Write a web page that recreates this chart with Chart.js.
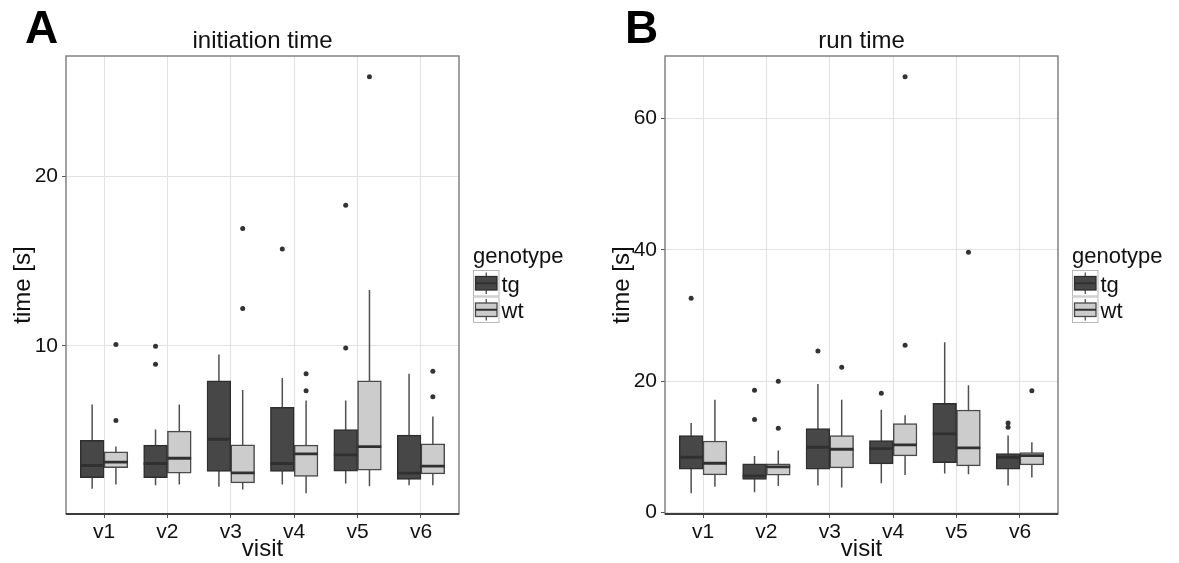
<!DOCTYPE html>
<html>
<head>
<meta charset="utf-8">
<title>initiation time / run time</title>
<script src="https://cdn.jsdelivr.net/npm/chart.js@4.4.1/dist/chart.umd.min.js"></script>
<style>
  html, body { margin: 0; padding: 0; background: #fff; }
  #wrap { position: relative; width: 1179px; height: 563px; }
  canvas { position: absolute; top: 0; }
  #panelA { left: 0; }
  #panelB { left: 599px; }
</style>
</head>
<body>
<div id="wrap">
  <canvas id="panelA" width="599" height="563"></canvas>
  <canvas id="panelB" width="580" height="563"></canvas>
</div>
<script>
const visits = ['v1', 'v2', 'v3', 'v4', 'v5', 'v6'];
const genotypes = ['tg', 'wt'];

// initiation time [s] -- box statistics per visit
const initTgLow    = [1.57, 1.78, 1.69, 1.82, 1.88, 1.78];
const initTgQ1     = [2.22, 2.22, 2.59, 2.59, 2.61, 2.12];
const initTgMedian = [2.94, 3.06, 4.49, 3.06, 3.57, 2.49];
const initTgQ3     = [4.42, 4.14, 7.94, 6.38, 5.06, 4.73];
const initTgHigh   = [6.54, 5.06, 9.49, 8.11, 6.77, 8.35];
const initTgOutVisit = ['v2', 'v2', 'v4', 'v5', 'v5'];
const initTgOutValue = [9.98, 8.92, 15.72, 9.88, 18.29];

const initWtLow    = [1.82, 1.82, 1.53, 1.31, 1.72, 1.78];
const initWtQ1     = [2.81, 2.49, 1.92, 2.29, 2.67, 2.45];
const initWtMedian = [3.14, 3.37, 2.51, 3.63, 4.06, 2.90];
const initWtQ3     = [3.75, 4.97, 4.16, 4.14, 7.94, 4.22];
const initWtHigh   = [4.06, 6.54, 7.40, 6.77, 13.30, 5.83];
const initWtOutVisit = ['v1', 'v1', 'v3', 'v3', 'v4', 'v4', 'v5', 'v6', 'v6'];
const initWtOutValue = [5.60, 10.08, 16.93, 12.20, 8.35, 7.35, 25.88, 8.50, 6.99];

const initTicks = [10, 20];
const initRange = [0.08, 27.1];

// run time [s]
const runTgLow    = [2.94, 3.09, 4.10, 4.46, 5.93, 4.10];
const runTgQ1     = [6.59, 5.02, 6.59, 7.39, 7.60, 6.59];
const runTgMedian = [8.41, 5.57, 9.93, 9.73, 11.96, 8.41];
const runTgQ3     = [11.71, 7.39, 12.77, 10.95, 16.62, 8.97];
const runTgHigh   = [13.63, 8.61, 19.56, 15.66, 25.90, 11.71];
const runTgOutVisit = ['v1', 'v2', 'v2', 'v3', 'v4', 'v6', 'v6'];
const runTgOutValue = [32.6, 18.6, 14.14, 24.58, 18.15, 13.63, 12.97];

const runWtLow    = [3.90, 4.05, 3.80, 5.72, 5.82, 5.32];
const runWtQ1     = [5.72, 5.67, 6.79, 8.61, 7.09, 7.24];
const runWtMedian = [7.50, 6.94, 9.63, 10.29, 9.83, 8.67];
const runWtQ3     = [10.89, 7.39, 11.71, 13.53, 15.60, 9.13];
const runWtHigh   = [17.18, 9.43, 17.18, 14.80, 19.36, 10.69];
const runWtOutVisit = ['v2', 'v2', 'v3', 'v4', 'v4', 'v5', 'v6'];
const runWtOutValue = [19.97, 12.82, 22.10, 25.45, 66.35, 39.64, 18.55];

const runTicks = [0, 20, 40, 60];
const runRange = [-0.23, 69.5];

const FONT = '"Liberation Sans", Arial, Helvetica, sans-serif';
const BOX_HALF = 0.1875;                 // half of one dodged box, in visit units
const DODGE = { tg: -0.1875, wt: 0.1875 };
const FILLS = { tg: '#474747', wt: '#cccccc' };
const EDGES = { tg: '#2e2e2e', wt: '#4a4a4a' };

function boxDatasets(g, low, q1, median, q3, high, outVisit, outValue) {
  const xs = visits.map((v, i) => i + 1 + DODGE[g]);
  const whiskers = [];
  const medians = [];
  xs.forEach((x, i) => {
    whiskers.push({ x, y: low[i] }, { x, y: high[i] }, { x, y: null });
    medians.push({ x: x - BOX_HALF, y: median[i] }, { x: x + BOX_HALF, y: median[i] }, { x, y: null });
  });

  return [
    {
      type: 'line',
      label: g + ' whiskers',
      data: whiskers,
      borderColor: '#505050',
      borderWidth: 1.5,
      pointRadius: 0,
      spanGaps: false,
      order: 3
    },
    {
      type: 'bar',
      label: g,
      data: xs.map((x, i) => ({ x, y: [q1[i], q3[i]] })),
      backgroundColor: FILLS[g],
      borderColor: EDGES[g],
      borderWidth: 1.5,
      borderSkipped: false,
      grouped: false,
      barThickness: (ctx) => {
        const s = ctx.chart.scales.x;
        return Math.abs(s.getPixelForValue(2 * BOX_HALF) - s.getPixelForValue(0));
      },
      order: 2
    },
    {
      type: 'line',
      label: g + ' median',
      data: medians,
      borderColor: '#303030',
      borderWidth: 2.8,
      pointRadius: 0,
      spanGaps: false,
      order: 1
    },
    {
      type: 'scatter',
      label: g + ' outliers',
      data: outVisit.map((v, i) => ({ x: visits.indexOf(v) + 1 + DODGE[g], y: outValue[i] })),
      backgroundColor: '#333333',
      borderWidth: 0,
      pointRadius: 2.5,
      order: 0
    }
  ];
}

// panel letter, title, border and the genotype key
const panelDecor = {
  id: 'panelDecor',
  afterDatasetsDraw(chart, args, opts) {
    const { ctx, chartArea: ca } = chart;
    ctx.save();

    ctx.strokeStyle = '#7a7a7a';
    ctx.lineWidth = 1.4;
    ctx.strokeRect(ca.left, ca.top, ca.right - ca.left, ca.bottom - ca.top);
    ctx.strokeStyle = '#3c3c3c';
    ctx.lineWidth = 1.8;
    ctx.beginPath();
    ctx.moveTo(ca.left, ca.bottom);
    ctx.lineTo(ca.right, ca.bottom);
    ctx.stroke();
    ctx.restore();
  },
  afterDraw(chart, args, opts) {
    const { ctx, chartArea: ca } = chart;
    ctx.save();
    ctx.fillStyle = '#000';
    ctx.textBaseline = 'alphabetic';

    ctx.font = 'bold 46px ' + FONT;
    ctx.textAlign = 'left';
    ctx.fillText(opts.letter, opts.letterX, 43);

    ctx.font = '24px ' + FONT;
    ctx.fillStyle = '#111';
    ctx.textAlign = 'center';
    ctx.fillText(opts.title, (ca.left + ca.right) / 2, ca.top - 8.5);

    // genotype key
    const lx = ca.right + 14;
    ctx.textAlign = 'left';
    ctx.font = '22px ' + FONT;
    ctx.fillText('genotype', lx, ca.top + 207);
    const key = 26.5;
    genotypes.forEach((g, i) => {
      const ky = ca.top + 214 + i * key;
      ctx.fillStyle = '#fff';
      ctx.fillRect(lx, ky, key, key);
      ctx.strokeStyle = '#b8b8b8';
      ctx.lineWidth = 1;
      ctx.strokeRect(lx + 0.5, ky + 0.5, key - 1, key - 1);
      const cx = lx + key / 2;
      ctx.strokeStyle = '#505050';
      ctx.lineWidth = 1.3;
      ctx.beginPath();
      ctx.moveTo(cx, ky + 2.5);
      ctx.lineTo(cx, ky + key - 2.5);
      ctx.stroke();
      ctx.fillStyle = FILLS[g];
      ctx.fillRect(lx + 2.5, ky + 6.5, key - 5, key - 13);
      ctx.strokeStyle = EDGES[g];
      ctx.lineWidth = 1.3;
      ctx.strokeRect(lx + 2.5, ky + 6.5, key - 5, key - 13);
      ctx.strokeStyle = '#303030';
      ctx.lineWidth = 2;
      ctx.beginPath();
      ctx.moveTo(lx + 2.5, ky + key / 2);
      ctx.lineTo(lx + key - 2.5, ky + key / 2);
      ctx.stroke();
      ctx.fillStyle = '#111';
      ctx.fillText(g, lx + key + 2, ky + 21.5);
    });
    ctx.restore();
  }
};

function buildPanel(canvasId, opts) {
  const datasets = [
    ...boxDatasets('tg', ...opts.tg),
    ...boxDatasets('wt', ...opts.wt)
  ];

  return new Chart(document.getElementById(canvasId), {
    type: 'bar',
    data: { datasets },
    plugins: [panelDecor],
    options: {
      responsive: false,
      animation: false,
      events: [],
      devicePixelRatio: 1,
      layout: { padding: { top: 56, right: opts.rightPad, bottom: 0, left: 0 } },
      plugins: {
        legend: { display: false },
        tooltip: { enabled: false },
        panelDecor: { letter: opts.letter, letterX: opts.letterX, title: opts.title }
      },
      scales: {
        x: {
          type: 'linear',
          min: 0.4,
          max: 6.6,
          offset: false,
          afterBuildTicks: (scale) => { scale.ticks = visits.map((v, i) => ({ value: i + 1 })); },
          afterFit: (scale) => { scale.height = 49; },
          ticks: {
            color: '#111',
            padding: 2,
            font: { family: FONT, size: 21 },
            callback: (value) => visits[value - 1]
          },
          grid: { color: '#e2e2e2', offset: false, tickColor: '#555', tickLength: 4 },
          border: { display: false },
          title: {
            display: true,
            text: 'visit',
            color: '#111',
            font: { family: FONT, size: 24, lineHeight: 1 },
            padding: { top: 0, bottom: 1.5 }
          }
        },
        y: {
          type: 'linear',
          min: opts.range[0],
          max: opts.range[1],
          afterBuildTicks: (scale) => { scale.ticks = opts.ticks.map(v => ({ value: v })); },
          afterFit: (scale) => { scale.width = 66; },
          ticks: {
            color: '#111',
            padding: 4,
            font: { family: FONT, size: 21 }
          },
          grid: { color: '#e2e2e2', tickColor: '#555', tickLength: 4 },
          border: { display: false },
          title: {
            display: true,
            text: 'time [s]',
            color: '#111',
            font: { family: FONT, size: 24, lineHeight: 1.2 },
            padding: { top: 8.6, bottom: 0 }
          }
        }
      }
    }
  });
}

buildPanel('panelA', {
  letter: 'A', letterX: 25, title: 'initiation time', rightPad: 140,
  ticks: initTicks, range: initRange,
  tg: [initTgLow, initTgQ1, initTgMedian, initTgQ3, initTgHigh, initTgOutVisit, initTgOutValue],
  wt: [initWtLow, initWtQ1, initWtMedian, initWtQ3, initWtHigh, initWtOutVisit, initWtOutValue]
});

buildPanel('panelB', {
  letter: 'B', letterX: 26, title: 'run time', rightPad: 121,
  ticks: runTicks, range: runRange,
  tg: [runTgLow, runTgQ1, runTgMedian, runTgQ3, runTgHigh, runTgOutVisit, runTgOutValue],
  wt: [runWtLow, runWtQ1, runWtMedian, runWtQ3, runWtHigh, runWtOutVisit, runWtOutValue]
});
</script>
</body>
</html>
